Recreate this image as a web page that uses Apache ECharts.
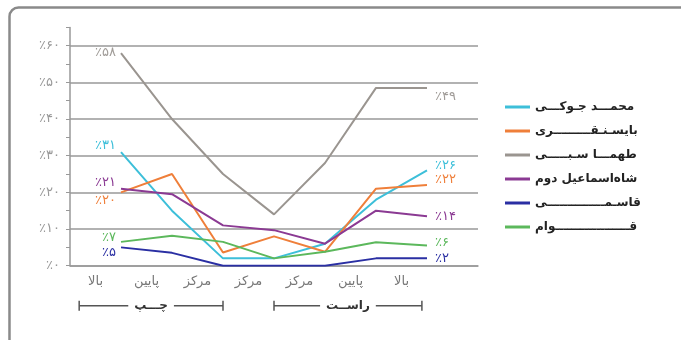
<!DOCTYPE html>
<html><head><meta charset="utf-8">
<script src="https://cdn.jsdelivr.net/npm/echarts@6/dist/echarts.min.js"></script>
<style>html,body{margin:0;padding:0;background:#fff}#c{width:681px;height:340px}</style>
</head><body><div id="c"></div><script>
// ---- data ----
const categories = ['بالا', 'پایین', 'مرکز', 'مرکز', 'مرکز', 'پایین', 'بالا'];
const seriesNames = ['محمـــد جـوکـــی', 'بایسـنـقـــــــــری', 'طهمـــا سـبـــــی', 'شاه‌اسماعیل دوم', 'قاسـمــــــــــــــی', 'قــــــــــــــــــوام'];
const mohammadJowki = [31, 15, 2, 2, 6, 18, 26];
const baysonghori   = [20, 25, 3.6, 8, 3.8, 21, 22];
const tahmasbi      = [58, 40, 25, 14, 28, 48.5, 48.5];
const shahIsmail2   = [21, 19.5, 11, 9.7, 6, 15, 13.5];
const ghasemi       = [5, 3.5, 0, 0, 0, 2, 2];
const ghavam        = [6.5, 8.2, 6.5, 2, 3.8, 6.4, 5.5];
const startLabels   = [31, 20, 58, 21, 5, 7];
const endLabels     = [26, 22, 49, 14, 2, 6];
const yTicks        = [0, 10, 20, 30, 40, 50, 60];
const groupNames    = ['چـــپ', 'راســت'];

// ---- styles ----
const colors = ['#3dbfd9', '#ef7f3a', '#9a9590', '#8b3a93', '#2a2fa3', '#5cb85c'];
const labelColors = ['#3dbfd9', '#ef7f3a', '#a09c98', '#8b3a93', '#2a2fa3', '#5cb85c'];
const startOffsets = [[0, -6], [0, 8], [0, 0], [0, -6], [0, 5], [0, -4]];
const endOffsets   = [[3, -5], [3, -5], [3, 9], [3, 0], [3, 0], [3, -3]];
const FONT = 'DejaVu Sans';

const faDigits = '۰۱۲۳۴۵۶۷۸۹';
const fa = n => '٪' + String(n).replace(/\d/g, d => faDigits[d]);

const allValues = [mohammadJowki, baysonghori, tahmasbi, shahIsmail2, ghasemi, ghavam];

const chart = echarts.init(document.getElementById('c'), null, {renderer: 'canvas'});

const series = allValues.map((vals, s) => ({
  name: seriesNames[s],
  type: 'line',
  xAxisIndex: 1,
  yAxisIndex: 0,
  symbol: 'circle',
  symbolSize: 0,
  showSymbol: true,
  smooth: false,
  lineStyle: {width: 2, color: colors[s]},
  itemStyle: {color: colors[s]},
  label: {show: false},
  z: 3,
  data: vals.map((v, i) => {
    const item = {value: [i + 1, v]};
    if (i === 0) {
      item.label = {show: true, position: 'left', distance: 5, offset: startOffsets[s],
        formatter: fa(startLabels[s]), color: labelColors[s], fontFamily: FONT, fontSize: 13};
    } else if (i === vals.length - 1) {
      item.label = {show: true, position: 'right', distance: 5, offset: endOffsets[s],
        formatter: fa(endLabels[s]), color: labelColors[s], fontFamily: FONT, fontSize: 13};
    }
    return item;
  })
}));

chart.setOption({
  animation: false,
  backgroundColor: '#fff',
  textStyle: {fontFamily: FONT},
  grid: {left: 70, right: 203, top: 27.4, bottom: 74.3, containLabel: false, outerBoundsMode: 'none'},
  legend: {
    orient: 'vertical', left: 500, top: 95, itemWidth: 25, itemHeight: 3, itemGap: 10,
    icon: 'rect', data: seriesNames,
    textStyle: {fontFamily: FONT, fontWeight: 'bold', fontSize: 12, color: '#222', lineHeight: 14}
  },
  xAxis: [
    {type: 'category', data: categories.concat(['']), boundaryGap: true,
      axisLine: {show: true, lineStyle: {color: '#999', width: 1.5}},
      axisTick: {show: false}, splitLine: {show: false},
      axisLabel: {color: '#777', fontSize: 13, fontFamily: FONT, margin: 9, interval: 0}},
    {type: 'value', min: 0, max: categories.length + 1, show: false}
  ],
  yAxis: [
    {type: 'value', min: 0, max: 65, interval: 10, position: 'left',
      axisLine: {show: false}, axisTick: {show: false},
      splitLine: {show: true, showMaxLine: false, lineStyle: {color: '#999', width: 1.5}},
      axisLabel: {showMaxLabel: false, color: '#999', fontSize: 13, fontFamily: FONT, margin: 10,
        formatter: v => yTicks.includes(v) ? fa(v) : ''}},
    {type: 'value', min: 0, max: 65, interval: 5, position: 'left', offset: 0,
      axisLine: {show: true, lineStyle: {color: '#999', width: 1.5}},
      axisTick: {show: true, length: 4, lineStyle: {color: '#999'}},
      splitLine: {show: false}, axisLabel: {show: false}}
  ],
  series: series
});

// group brackets under the category labels
const px = v => chart.convertToPixel({xAxisIndex: 1}, v);
const yb = chart.convertToPixel({yAxisIndex: 0}, 0) + 40;
const spans = [[0.18, 3.0], [4.0, 6.9]];
const elems = [{
  type: 'rect', shape: {x: 9.5, y: 7.5, width: 700, height: 400, r: 9},
  style: {fill: 'none', stroke: '#8a8a8a', lineWidth: 2.5}, z: 0
}];
spans.forEach((sp, k) => {
  const x1 = px(sp[0]), x2 = px(sp[1]);
  const st = {stroke: '#555', lineWidth: 1.5};
  elems.push({type: 'line', shape: {x1: x1, y1: yb, x2: x2, y2: yb}, style: st, z: 5});
  elems.push({type: 'line', shape: {x1: x1, y1: yb - 5, x2: x1, y2: yb + 5}, style: st, z: 5});
  elems.push({type: 'line', shape: {x1: x2, y1: yb - 5, x2: x2, y2: yb + 5}, style: st, z: 5});
  elems.push({type: 'text', x: (x1 + x2) / 2, y: yb, z: 6,
    style: {text: groupNames[k], fill: '#333', font: 'bold 12px "DejaVu Sans"', align: 'center',
      verticalAlign: 'middle', backgroundColor: '#fff', padding: [0, 6]}});
});
chart.setOption({graphic: {elements: elems}});
</script></body></html>
